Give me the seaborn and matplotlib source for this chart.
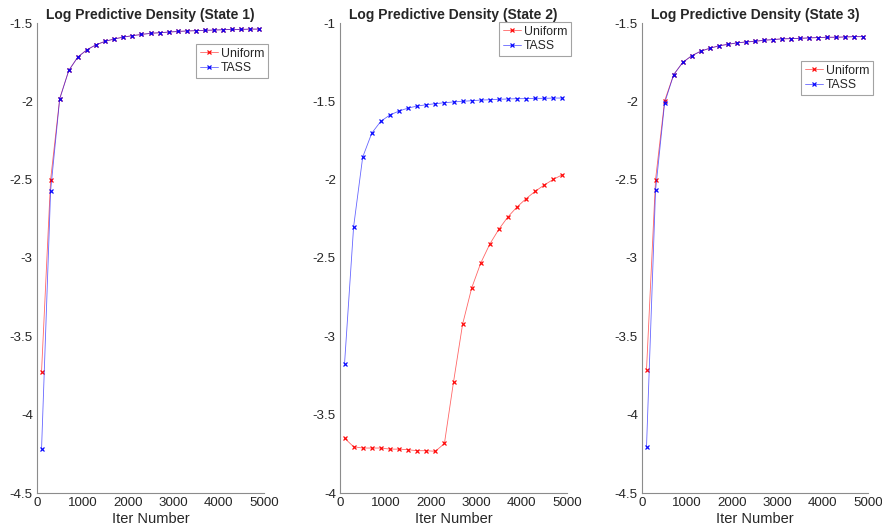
import numpy as np
import pandas as pd
import matplotlib
matplotlib.use("Agg")
import matplotlib.pyplot as plt
import seaborn as sns

iters = list(range(100, 5000, 200))

state1_uniform = [-3.726, -2.500, -1.982, -1.803, -1.717, -1.671, -1.639, -1.617, -1.602, -1.590,
                  -1.581, -1.573, -1.566, -1.562, -1.558, -1.554, -1.551, -1.549, -1.547, -1.545,
                  -1.543, -1.541, -1.541, -1.539, -1.539]
state1_tass = [-4.220, -2.570, -1.985, -1.803, -1.717, -1.671, -1.639, -1.617, -1.602, -1.590,
               -1.581, -1.573, -1.566, -1.562, -1.558, -1.554, -1.551, -1.549, -1.547, -1.545,
               -1.543, -1.541, -1.541, -1.539, -1.539]

state2_uniform = [-3.650, -3.705, -3.713, -3.713, -3.713, -3.720, -3.720, -3.724, -3.730, -3.730,
                  -3.734, -3.684, -3.292, -2.923, -2.692, -2.532, -2.411, -2.316, -2.237, -2.174,
                  -2.121, -2.074, -2.034, -1.998, -1.968]
state2_tass = [-3.175, -2.300, -1.856, -1.703, -1.627, -1.587, -1.562, -1.543, -1.530, -1.522,
               -1.515, -1.509, -1.504, -1.500, -1.496, -1.492, -1.490, -1.487, -1.485, -1.483,
               -1.483, -1.481, -1.481, -1.479, -1.479]

state3_uniform = [-3.712, -2.499, -1.997, -1.830, -1.752, -1.709, -1.680, -1.661, -1.646, -1.636,
                  -1.627, -1.621, -1.617, -1.610, -1.606, -1.601, -1.600, -1.598, -1.595, -1.593,
                  -1.591, -1.591, -1.589, -1.587, -1.587]
state3_tass = [-4.204, -2.567, -2.011, -1.830, -1.752, -1.709, -1.680, -1.661, -1.646, -1.636,
               -1.627, -1.621, -1.617, -1.610, -1.606, -1.601, -1.600, -1.598, -1.595, -1.593,
               -1.591, -1.591, -1.589, -1.587, -1.587]

titles = ["Log Predictive Density (State 1)",
          "Log Predictive Density (State 2)",
          "Log Predictive Density (State 3)"]
x_ticks = [0, 1000, 2000, 3000, 4000, 5000]
y_ticks_13 = [-4.5, -4, -3.5, -3, -2.5, -2, -1.5]
y_ticks_2 = [-4, -3.5, -3, -2.5, -2, -1.5, -1]
y_labels_13 = ["-4.5", "-4", "-3.5", "-3", "-2.5", "-2", "-1.5"]
y_labels_2 = ["-4", "-3.5", "-3", "-2.5", "-2", "-1.5", "-1"]

sns.set_style("white")
plt.rcParams["font.family"] = ["Liberation Sans", "DejaVu Sans"]

W, H = 882, 531
fig = plt.figure(figsize=(W / 100, H / 100), dpi=100)

panels = [
    (37, 264, state1_uniform, state1_tass, y_ticks_13, y_labels_13, (-4.5, -1.5), (196, 44)),
    (340, 567, state2_uniform, state2_tass, y_ticks_2, y_labels_2, (-4, -1), (499, 22)),
    (642, 868, state3_uniform, state3_tass, y_ticks_13, y_labels_13, (-4.5, -1.5), (801, 61)),
]
top, bottom = 23, 493
axis_grey = "#8c8c8c"
series_style = dict(marker="x", markersize=3.2, markeredgewidth=0.9, linewidth=0.6)
RED, BLUE = (1.0, 0.0, 0.0), (0.0, 0.0, 1.0)

for i, (l, r, uni, tass, yt, yl, ylim, leg) in enumerate(panels):
    ax = fig.add_axes([l / W, 1 - bottom / H, (r - l) / W, (bottom - top) / H])
    sns.lineplot(x=iters, y=uni, color=RED, markeredgecolor=RED,
                 label="Uniform", ax=ax, **series_style)
    sns.lineplot(x=iters, y=tass, color=BLUE, markeredgecolor=BLUE,
                 label="TASS", ax=ax, **series_style)
    # lighter connecting lines, fully saturated markers
    for line, c in zip(ax.lines, (RED, BLUE)):
        line.set_alpha(None)
        line.set_color((*c, 0.6))
        line.set_markeredgecolor((*c, 0.95))
    ax.set_xlim(0, 5000)
    ax.set_ylim(*ylim)
    ax.set_xticks(x_ticks)
    ax.set_xticklabels([str(t) for t in x_ticks])
    ax.set_yticks(yt)
    ax.set_yticklabels(yl)
    ax.tick_params(direction="in", length=4, width=0.6, colors=axis_grey,
                   labelcolor="#262626", labelsize=9.6, pad=3)
    for side in ("top", "right"):
        ax.spines[side].set_visible(False)
    for side in ("left", "bottom"):
        ax.spines[side].set_color(axis_grey)
        ax.spines[side].set_linewidth(0.8)
    ax.set_xlabel("Iter Number", fontsize=10.5, color="#262626", labelpad=2)
    ax.set_ylabel("")
    ax.set_title(titles[i], fontsize=10, fontweight="bold", pad=3)
    ax.patch.set_alpha(0)

    lx, ly = leg
    handles, labels = ax.get_legend_handles_labels()
    lg = ax.legend(handles, labels, loc="upper left",
                   bbox_to_anchor=((lx - l) / (r - l), 1 - (ly - top) / (bottom - top)),
                   fontsize=8.8, frameon=True, fancybox=False, borderpad=0.3,
                   handlelength=1.5, handletextpad=0.25, labelspacing=0.2,
                   borderaxespad=0)
    lg.get_frame().set_edgecolor(axis_grey)
    lg.get_frame().set_linewidth(0.8)

fig.savefig("out.png", dpi=100)
